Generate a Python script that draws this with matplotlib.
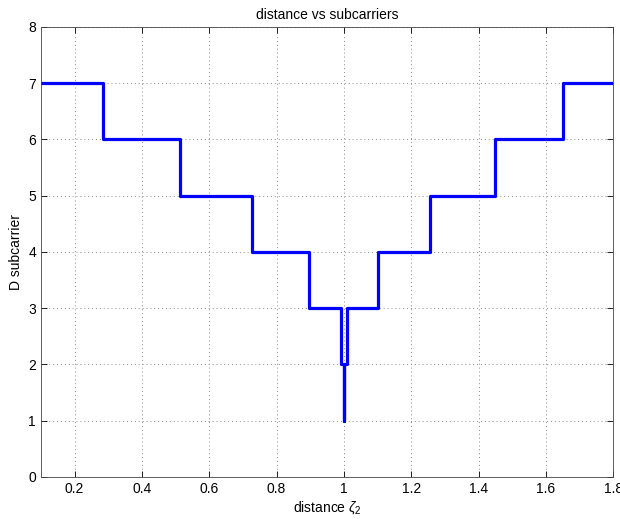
import matplotlib
matplotlib.use("Agg")
import matplotlib.pyplot as plt

# step start positions along distance and the subcarrier level held from there
step_x = [0.1, 0.285, 0.514, 0.728, 0.895, 0.99, 1.0, 1.0, 1.01, 1.1, 1.255, 1.448, 1.65, 1.8]
step_d = [7, 6, 5, 4, 3, 2, 1, 2, 3, 4, 5, 6, 7, 7]

x_ticks = [0.2, 0.4, 0.6, 0.8, 1.0, 1.2, 1.4, 1.6, 1.8]
x_tick_labels = ["0.2", "0.4", "0.6", "0.8", "1", "1.2", "1.4", "1.6", "1.8"]
y_ticks = [0, 1, 2, 3, 4, 5, 6, 7, 8]

plt.rcParams["font.family"] = ["Liberation Sans", "DejaVu Sans"]
plt.rcParams["mathtext.fontset"] = "custom"
plt.rcParams["mathtext.it"] = "Liberation Sans:italic"
plt.rcParams["mathtext.rm"] = "Liberation Sans"

fig = plt.figure(figsize=(6.2, 5.19), dpi=100)
ax = fig.add_axes([0.066, 0.081, 0.923, 0.867])

ax.plot(step_x, step_d, drawstyle="steps-post", color="#0000ff", linewidth=2.3)

ax.set_xlim(0.1, 1.8)
ax.set_ylim(0, 8)
ax.set_xticks(x_ticks)
ax.set_xticklabels(x_tick_labels)
ax.set_yticks(y_ticks)
ax.tick_params(direction="in", top=True, right=True, length=4, labelsize=10, width=0.6)
ax.grid(True, linestyle=(0, (1, 3)), color="#888888", linewidth=0.7)
for sp in ax.spines.values():
    sp.set_linewidth(0.6)
    sp.set_color("#444444")

ax.set_title("distance vs subcarriers", fontsize=10)
ax.set_xlabel(r"distance $\zeta_2$", fontsize=10, labelpad=2)
ax.set_ylabel("D subcarrier", fontsize=10, labelpad=4)

fig.savefig("out.png", dpi=100)
